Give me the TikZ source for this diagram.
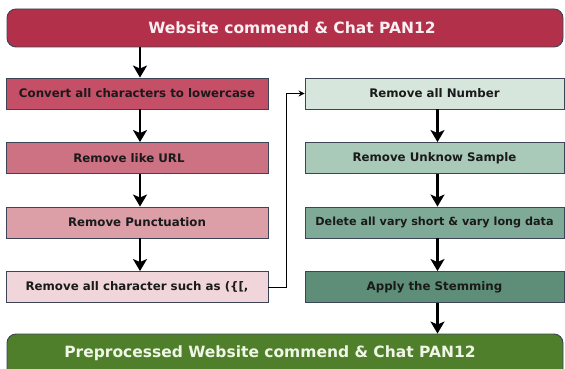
\documentclass[tikz,border=0pt]{standalone}
\usepackage{fontspec}
\setmainfont{DejaVu Sans}
\usetikzlibrary{arrows.meta}
\definecolor{headred}{HTML}{B3304A}
\definecolor{stepA}{HTML}{C64F68}
\definecolor{stepB}{HTML}{CC7282}
\definecolor{stepC}{HTML}{DC9FA7}
\definecolor{stepD}{HTML}{F0D6DA}
\definecolor{stepE}{HTML}{D6E6DD}
\definecolor{stepF}{HTML}{A9C9B9}
\definecolor{stepG}{HTML}{7FAA98}
\definecolor{stepH}{HTML}{5E8E78}
\definecolor{footgreen}{HTML}{4F7F2B}
\definecolor{edge}{HTML}{3C4455}
\definecolor{ink}{HTML}{1A1A1A}
\definecolor{headtext}{HTML}{FAF0F2}
\definecolor{foottext}{HTML}{F0F6E6}
\tikzset{
  x=1pt, y=-1pt,
  stepbox/.style={draw=edge, line width=0.9pt, rectangle, inner sep=0pt,
    text=ink, font=\bfseries\fontsize{11.8}{14}\selectfont},
  leftbox/.style={stepbox, minimum width=262pt, minimum height=31pt},
  rightbox/.style={stepbox, minimum width=259pt, minimum height=31pt},
  bar/.style={draw=edge, line width=0.9pt, rounded corners=9pt, inner sep=0pt,
    minimum width=556pt},
  bartext/.style={font=\bfseries\fontsize{15.5}{18}\selectfont, inner sep=0pt},
  flow/.style={line width=2.5pt, -{Stealth[length=12pt,width=14pt,inset=3pt]}},
  link/.style={line width=1pt, -{Stealth[length=6pt,width=6pt]}}
}
\begin{document}
\begin{tikzpicture}
\clip (0,0) rectangle (565,369);
% header and footer bars
\node[bar, fill=headred, minimum height=38pt] (head) at (285,28) {};
\node[bartext, text=headtext] (headlabel) at (292,28) {Website commend \& Chat PAN12};
\node[bar, fill=footgreen, minimum height=44pt] (foot) at (285,356) {};
\node[bartext, text=foottext] (footlabel) at (270,353) {Preprocessed Website commend \& Chat PAN12};
% left column
\node[leftbox, fill=stepA] (s1) at (137,93.5) {Convert all characters to lowercase};
\node[leftbox, fill=stepB] (s2) at (137,158) {\hspace*{-16pt}Remove like URL};
\node[leftbox, fill=stepC] (s3) at (137,222.5) {Remove Punctuation};
\node[leftbox, fill=stepD] (s4) at (137,287) {Remove all character such as (\{[,};
% right column
\node[rightbox, fill=stepE] (s5) at (434.5,93.5) {Remove all Number};
\node[rightbox, fill=stepF] (s6) at (434.5,158) {Remove Unknow Sample};
\node[rightbox, fill=stepG, font=\bfseries\fontsize{11.2}{14}\selectfont] (s7) at (434.5,222.5) {Delete all vary short \& vary long data};
\node[rightbox, fill=stepH] (s8) at (434.5,287) {Apply the Stemming};
% connectors
\draw[flow] ([xshift=3pt]s1.north |- head.south) -- ([xshift=3pt]s1.north);
\draw[flow] ([xshift=3pt]s1.south) -- ([xshift=3pt]s2.north);
\draw[flow] ([xshift=3pt]s2.south) -- ([xshift=3pt]s3.north);
\draw[flow] ([xshift=3pt]s3.south) -- ([xshift=3pt]s4.north);
\draw[link] (s4.east) -- ++(18,0) |- (s5.west);
\draw[flow] ([xshift=3pt]s5.south) -- ([xshift=3pt]s6.north);
\draw[flow] ([xshift=3pt]s6.south) -- ([xshift=3pt]s7.north);
\draw[flow] ([xshift=3pt]s7.south) -- ([xshift=3pt]s8.north);
\draw[flow] ([xshift=3pt]s8.south) -- ([xshift=3pt]s8.south |- foot.north);
\end{tikzpicture}
\end{document}
